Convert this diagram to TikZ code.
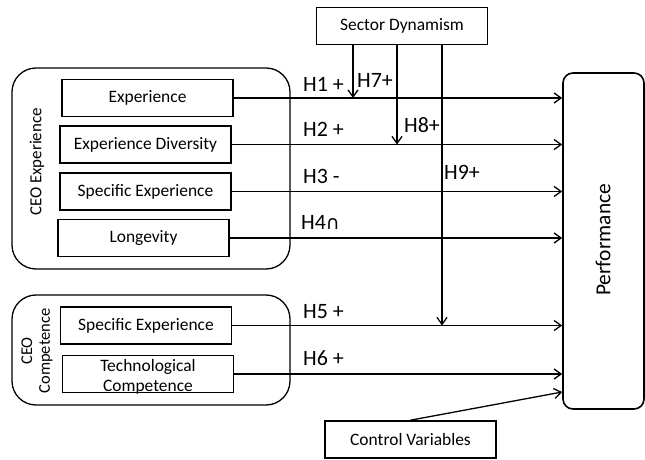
\documentclass[tikz,border=0pt]{standalone}
\usepackage{fontspec}
\setmainfont{Carlito}
\newfontfamily\symfont{DejaVu Sans}
\usetikzlibrary{arrows.meta}
\begin{document}
\begin{tikzpicture}
		[x=1bp,y=-1bp,
		mybox/.style={draw,line width=1.6bp,minimum width=171bp,minimum height=37bp,inner sep=0pt,font=\fontsize{17.5}{20}\selectfont},
		mygroup/.style={draw,line width=1.3bp,rounded corners=24bp},
		myarrow/.style={-{Straight Barb[length=7bp,width=10bp]},line width=1.3bp},
		hyp/.style={anchor=west,inner sep=0pt,font=\fontsize{22}{24}\selectfont}]
		\useasboundingbox (0,0) rectangle (645,460);
		% groups
		\draw[mygroup] (12,68) rectangle (290,269);
		\draw[mygroup] (12,295) rectangle (290,405);
		\node[rotate=90,font=\fontsize{17}{20}\selectfont,name=gexp] at (37,162) {CEO Experience};
		\node[rotate=90,align=center,font=\fontsize{16.5}{18}\selectfont,name=gcomp] at (37,351) {CEO\\Competence};
		% variables
		\node[mybox,name=exp] at (147.5,98) {Experience};
		\node[mybox,name=div] at (145.5,144.5) {Experience Diversity};
		\node[mybox,name=spec] at (145.5,191.5) {Specific Experience};
		\node[mybox,name=lon] at (143.5,238) {Longevity};
		\node[mybox,name=spec2] at (146,325.5) {Specific Experience};
		\node[mybox,name=tech] at (148,374) {};
		\node[align=center,font=\fontsize{17.5}{20}\selectfont,name=techtext] at (148,377) {Technological\\Competence};
		\node[mybox,name=sd] at (402,26) {Sector Dynamism};
		\node[mybox,name=cv] at (410.5,439.5) {Control Variables};
		\node[draw,line width=1.6bp,rounded corners=10bp,minimum width=81bp,minimum height=336bp,name=perf] at (603.5,241) {};
		\node[rotate=90,font=\fontsize{21.5}{24}\selectfont,name=perftext] at (603,240) {Performance};
		% arrows
		\foreach \n in {exp,div,spec,lon,spec2,tech}
		{
			\draw[myarrow] (\n.east) -- (\n.east -| perf.west);
		}
		\draw[myarrow] (353,0 |- sd.south) -- (353,0 |- exp.east);
		\draw[myarrow] (397,0 |- sd.south) -- (397,0 |- div.east);
		\draw[myarrow] (442,0 |- sd.south) -- (442,0 |- spec2.east);
		\draw[myarrow] (cv.north) -- (perf.west |- 0,392);
		% hypotheses
		\node[hyp,name=h1] at (303,84) {H1 +};
		\node[hyp,name=h7] at (357,80) {H7+};
		\node[hyp,name=h2] at (303,129) {H2 +};
		\node[hyp,name=h8] at (404,125) {H8+};
		\node[hyp,name=h3] at (303,176) {H3 -};
		\node[hyp,name=h9] at (444,172) {H9+};
		\node[hyp,name=h4] at (301,222) {H4{\symfont\fontsize{19}{24}\selectfont ∩}};
		\node[hyp,name=h5] at (303,312) {H5 +};
		\node[hyp,name=h6] at (303,358) {H6 +};
	\end{tikzpicture}
\end{document}
